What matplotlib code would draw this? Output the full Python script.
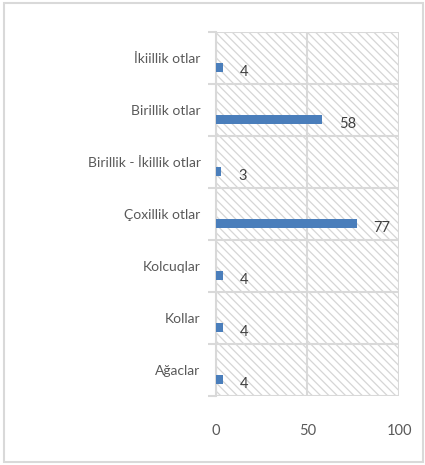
import matplotlib.pyplot as plt
from matplotlib.patches import Rectangle

categories = ["İkiillik otlar", "Birillik otlar", "Birillik - İkillik otlar",
              "Çoxillik otlar", "Kolcuqlar", "Kollar", "Ağaclar"]
counts = [4, 58, 3, 77, 4, 4, 4]
x_ticks = [0, 50, 100]

grid_col = "#d9d9d9"
text_col = "#595959"
bar_col = "#4a7ebb"

plt.rcParams['font.family'] = ['Lato', 'DejaVu Sans']
plt.rcParams['hatch.color'] = "#d6d6d6"
plt.rcParams['hatch.linewidth'] = 0.9

fig = plt.figure(figsize=(4.25, 4.65), dpi=100)
ax = fig.add_axes([0.508, 0.148, 0.431, 0.783])

# hatched plot area
ax.add_patch(Rectangle((0, 0), 1, 1, transform=ax.transAxes, facecolor="white",
                       edgecolor="#d6d6d6", hatch="\\\\\\\\", linewidth=0, zorder=0))

pos = list(range(len(categories)))
# bars sit in the lower part of each category band
ax.barh([p + 0.18 for p in pos], counts, height=0.17, color=bar_col, zorder=3)
for p, v in zip(pos, counts):
    ax.annotate(str(v), (v, p + 0.18), xytext=(12, -3), textcoords="offset points",
                ha="left", va="center", fontsize=10.5, color="#404040", zorder=4)

ax.set_xlim(0, 100)
ax.set_ylim(len(categories) - 0.5, -0.5)
ax.set_xticks(x_ticks)
ax.set_xticklabels([str(t) for t in x_ticks])
ax.set_yticks(pos)
ax.set_yticklabels(categories)
ax.set_yticks([p - 0.5 for p in range(len(categories) + 1)], minor=True)

ax.tick_params(axis="x", length=0, pad=20, labelsize=10.5, labelcolor=text_col)
ax.tick_params(axis="y", which="major", length=0, pad=11, labelsize=10, labelcolor=text_col)
ax.tick_params(axis="y", which="minor", length=6, width=1.5, color=grid_col)

ax.grid(axis="x", color=grid_col, linewidth=1.5, zorder=1)
ax.grid(axis="y", which="minor", color=grid_col, linewidth=1.5, zorder=1)
ax.set_axisbelow(True)
for side in ["top", "right"]:
    ax.spines[side].set_visible(False)
ax.spines["bottom"].set_visible(False)
ax.spines["left"].set_color(grid_col)
ax.spines["left"].set_linewidth(1.5)

# chart border
fig.patches.append(Rectangle((0.01, 0.006), 0.985, 0.988, transform=fig.transFigure,
                             fill=False, edgecolor=grid_col, linewidth=1.5))

fig.savefig("out.png", dpi=100)
